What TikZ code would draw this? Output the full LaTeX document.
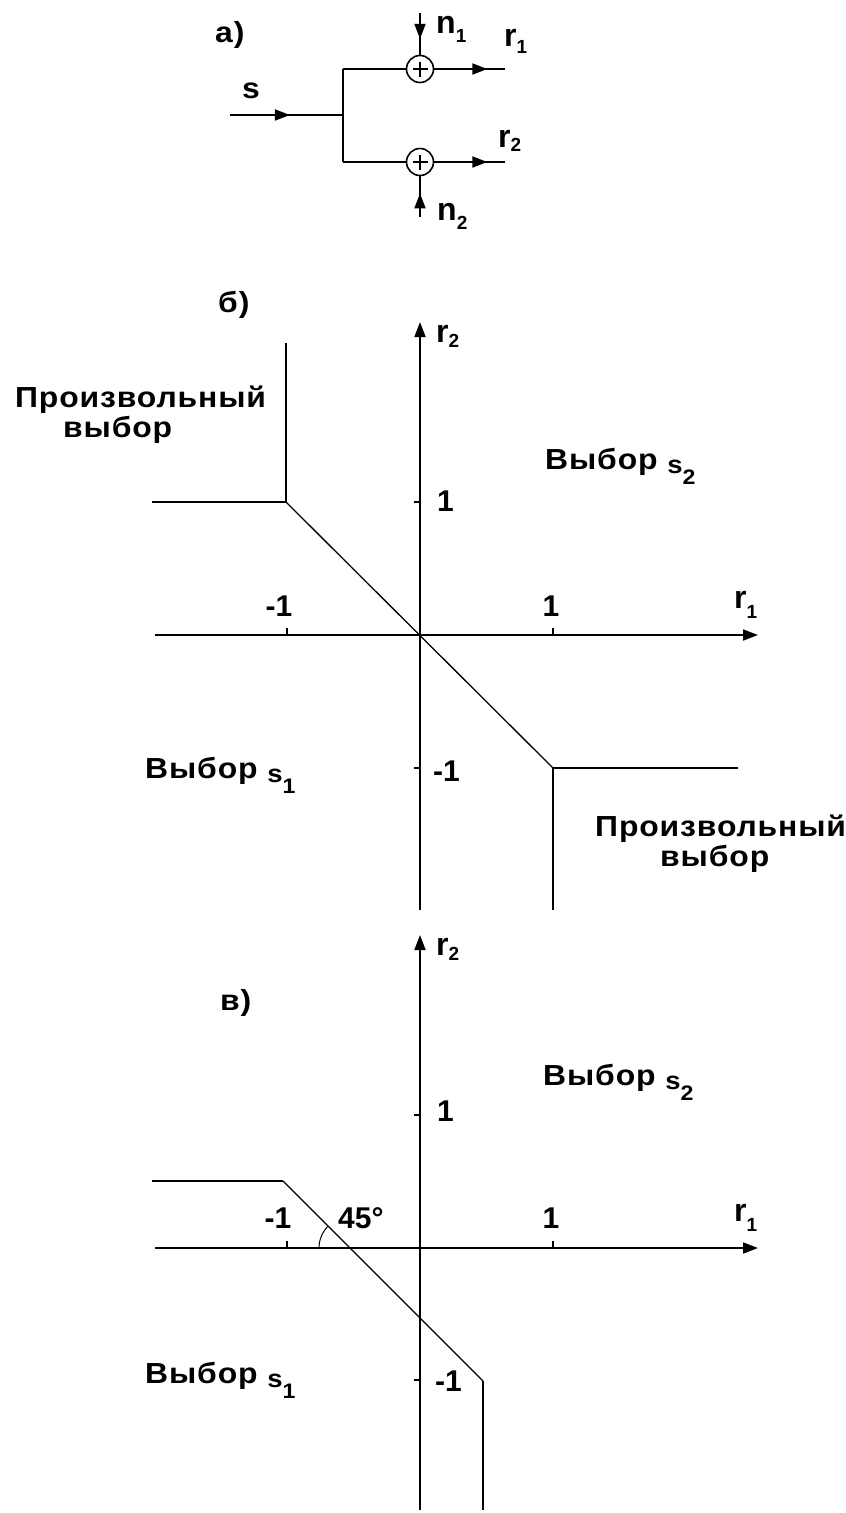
\documentclass[tikz,border=0pt]{standalone}
\usepackage{fontspec}
\setmainfont{Liberation Sans}
\newfontfamily\cyr{Liberation Sans}[FakeStretch=1.1, LetterSpace=3]
\usetikzlibrary{arrows.meta,decorations.markings}
% lowered index: #1 = drop in pt, #2 = size, #3 = text
\newcommand\sbx[3]{\raisebox{-#1pt}{\fontsize{#2}{#2}\selectfont\bfseries #3}}
\newcommand\ess[1]{\raisebox{-4pt}{\fontsize{25}{25}\selectfont\bfseries #1}}
\tikzset{
  lbl/.style={font=\fontsize{30}{32}\selectfont\bfseries, inner sep=0pt, anchor=base west},
  big/.style={font=\fontsize{32}{34}\selectfont\bfseries, inner sep=0pt, anchor=base west},
  lblc/.style={font=\fontsize{30}{32}\selectfont\bfseries, inner sep=0pt, anchor=base},
  ctx/.style={font=\fontsize{29}{30}\selectfont\cyr\bfseries, inner sep=0pt, anchor=base west},
  ln/.style={line width=1.8pt},
  diag/.style={line width=1.3pt},
  axis/.style={line width=1.8pt, -{Triangle[length=15pt,width=11pt]}},
  tick/.style={line width=1.4pt},
  midarrow/.style={postaction={decorate}, decoration={markings, mark=at position #1 with {\arrow{Triangle[length=15pt,width=11pt]}}}},
  adder/.style={circle, draw, line width=1.6pt, minimum size=27pt, inner sep=0pt,
    path picture={\draw[line width=2.8pt]
      ([xshift=-7.5pt]path picture bounding box.center) -- ([xshift=7.5pt]path picture bounding box.center)
      ([yshift=-7.5pt]path picture bounding box.center) -- ([yshift=7.5pt]path picture bounding box.center);}}
}
\begin{document}
\begin{tikzpicture}[x=1pt,y=-1pt]
\useasboundingbox (0,0) rectangle (846,1513);
% ---------- part a ----------
\node[ctx] (la) at (215,42) {а)};
\coordinate (sin) at (230,115);
\coordinate (sj) at (343,115);
\coordinate (bt) at (343,69);
\coordinate (bb) at (343,162);
\node[adder] (a1) at (420,69) {};
\node[adder] (a2) at (420,162) {};
\coordinate (r1e) at (505,69);
\coordinate (r2e) at (505,162);
\coordinate (n1s) at (420,13);
\coordinate (n2s) at (420,217);
\draw[ln, midarrow=0.53] (sin) -- (sj);
\draw[ln] (bt) -- (bb);
\draw[ln] (bt) -- (a1.west);
\draw[ln] (bb) -- (a2.west);
\draw[ln, midarrow=0.75] (a1.east) -- (r1e);
\draw[ln, midarrow=0.75] (a2.east) -- (r2e);
\draw[ln, midarrow=0.62] (n1s) -- (a1.north);
\draw[ln, midarrow=0.58] (n2s) -- (a2.south);
\node[ctx] (ls) at (242,98) {s};
\node[big] (ln1) at (436,33) {n\sbx{9}{19}{1}};
\node[big] (lr1) at (504,46) {r\sbx{7}{19}{1}};
\node[big] (lr2) at (498,147) {r\sbx{4}{19}{2}};
\node[big] (ln2) at (437,220) {n\sbx{9}{19}{2}};
% ---------- part b ----------
\node[ctx] (lb) at (218,312) {б)};
\coordinate (bxl) at (155,635);
\coordinate (bxr) at (758,635);
\coordinate (byb) at (420,910);
\coordinate (byt) at (420,322);
\draw[axis] (bxl) -- (bxr);
\draw[axis] (byb) -- (byt);
\draw[tick] (287,635) -- (287,628) (553,635) -- (553,628);
\draw[tick] (420,502) -- (414,502) (420,768) -- (414,768);
\coordinate (bp1) at (152,502);
\coordinate (bk1) at (286,502);
\coordinate (bp2) at (286,343);
\coordinate (bk2) at (553,768);
\coordinate (bp3) at (738,768);
\coordinate (bp4) at (553,910);
\draw[ln] (bp1) -- (bk1) -- (bp2);
\draw[diag] (bk1) -- (bk2);
\draw[ln] (bp3) -- (bk2) -- (bp4);
\node[lblc] (bxm1) at (279,616) {-1};
\node[lblc] (bxp1) at (551,616) {1};
\node[big] (br1) at (734,608) {r\sbx{10}{19}{1}};
\node[big] (br2) at (436,342) {r\sbx{5}{19}{2}};
\node[lbl] (byp1) at (437,511) {1};
\node[lbl] (bym1) at (433,781) {-1};
\node[ctx] (bt1) at (15,407) {Произвольный};
\node[ctx] (bt2) at (63,437) {выбор};
\node[ctx] (bt3) at (545,469) {Выбор \ess{s}\sbx{15}{21}{2}};
\node[ctx] (bt4) at (145,778) {Выбор \ess{s}\sbx{15}{21}{1}};
\node[ctx] (bt5) at (595,836) {Произвольный};
\node[ctx] (bt6) at (660,866) {выбор};
% ---------- part c ----------
\node[ctx] (lc) at (220,1010) {в)};
\coordinate (cxl) at (155,1248);
\coordinate (cxr) at (758,1248);
\coordinate (cyb) at (420,1510);
\coordinate (cyt) at (420,935);
\draw[axis] (cxl) -- (cxr);
\draw[axis] (cyb) -- (cyt);
\draw[tick] (287,1248) -- (287,1241) (553,1248) -- (553,1241);
\draw[tick] (420,1115) -- (414,1115) (420,1380) -- (414,1380);
\coordinate (cp1) at (152,1181);
\coordinate (ck1) at (283,1181);
\coordinate (ck2) at (483,1381);
\coordinate (cp2) at (483,1510);
\coordinate (cx0) at (350,1248);
\draw[ln] (cp1) -- (ck1);
\draw[diag] (ck1) -- (ck2);
\draw[ln] (ck2) -- (cp2);
\draw[line width=1pt] (cx0) ++(-31,0) arc[start angle=180, end angle=225, radius=31];
\node[lblc] (cxm1) at (278,1228) {-1};
\node[lbl] (c45) at (338,1228) {45°};
\node[lblc] (cxp1) at (551,1228) {1};
\node[big] (cr1) at (734,1221) {r\sbx{10}{19}{1}};
\node[big] (cr2) at (436,955) {r\sbx{5}{19}{2}};
\node[lbl] (cyp1) at (437,1121) {1};
\node[lbl] (cym1) at (435,1391) {-1};
\node[ctx] (ct1) at (543,1085) {Выбор \ess{s}\sbx{15}{21}{2}};
\node[ctx] (ct2) at (145,1383) {Выбор \ess{s}\sbx{15}{21}{1}};
\end{tikzpicture}
\end{document}
